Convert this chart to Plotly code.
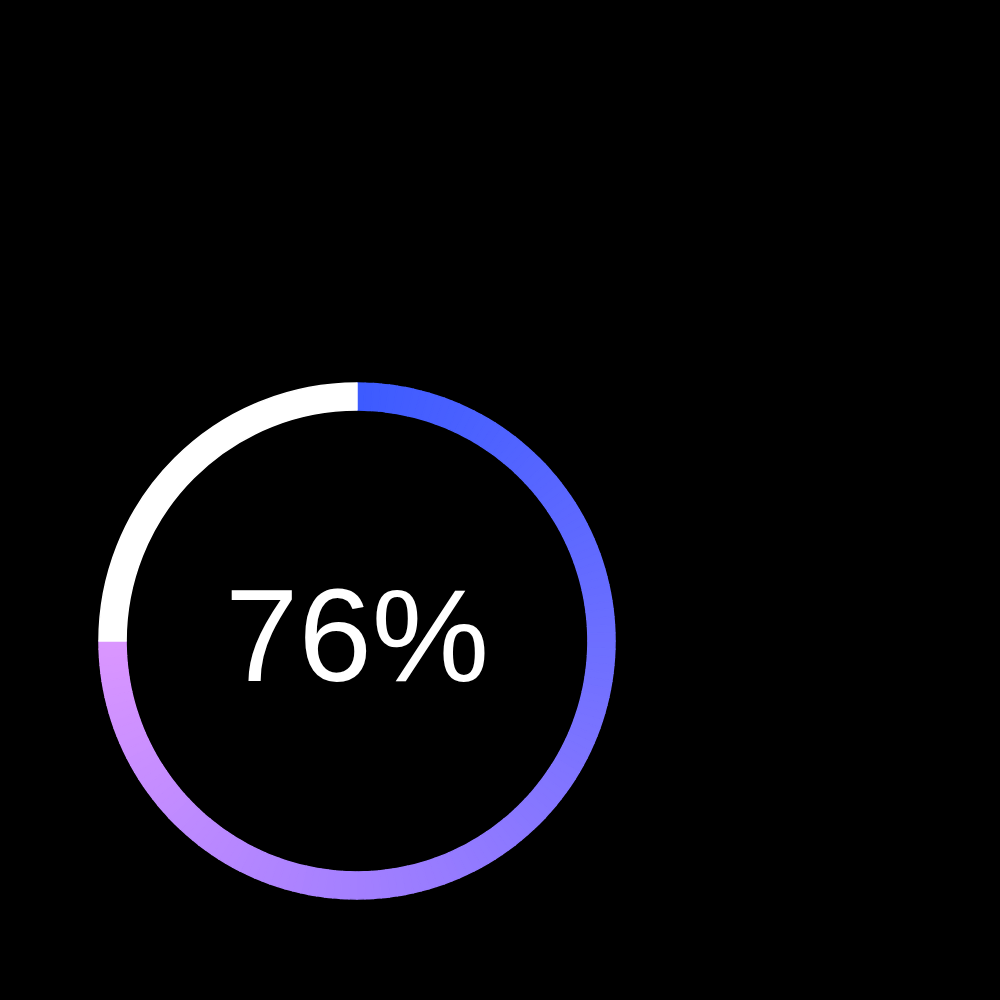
import plotly.graph_objects as go
from plotly.colors import sample_colorscale

# Data
arc_value = 75          # filled share of the ring, as drawn
remaining_value = 100 - arc_value
center_label = "76%"

# Style: gradient along the filled arc (blue at top -> violet at left)
gradient_scale = [
    [0.0, "#3D5BFF"],
    [0.33, "#6C6FFF"],
    [0.66, "#A27FFF"],
    [1.0, "#DA96FF"],
]
n_steps = arc_value * 2  # rendering resolution of the gradient
step = arc_value / n_steps
seg_values = [step] * n_steps + [remaining_value]
seg_colors = sample_colorscale(gradient_scale, [i / (n_steps - 1) for i in range(n_steps)]) + ["#FFFFFF"]

fig = go.Figure()
fig.add_trace(go.Pie(
    values=seg_values,
    sort=False,
    direction="clockwise",
    rotation=0,
    hole=0.895,
    marker=dict(colors=seg_colors, line=dict(color=seg_colors, width=1.5)),
    textinfo="none",
    hoverinfo="skip",
    showlegend=False,
    domain=dict(x=[0.099, 0.615], y=[0.101, 0.617]),
))

fig.add_annotation(
    x=0.357, y=1 - 0.635, xref="paper", yref="paper",
    text=center_label, showarrow=False,
    font=dict(family="Liberation Sans", size=132, color="#FFFFFF"),
    xanchor="center", yanchor="middle",
)

fig.update_layout(
    width=1000, height=1000,
    margin=dict(l=0, r=0, t=0, b=0),
    paper_bgcolor="#000000",
    plot_bgcolor="#000000",
)

fig.write_html("out.html")
